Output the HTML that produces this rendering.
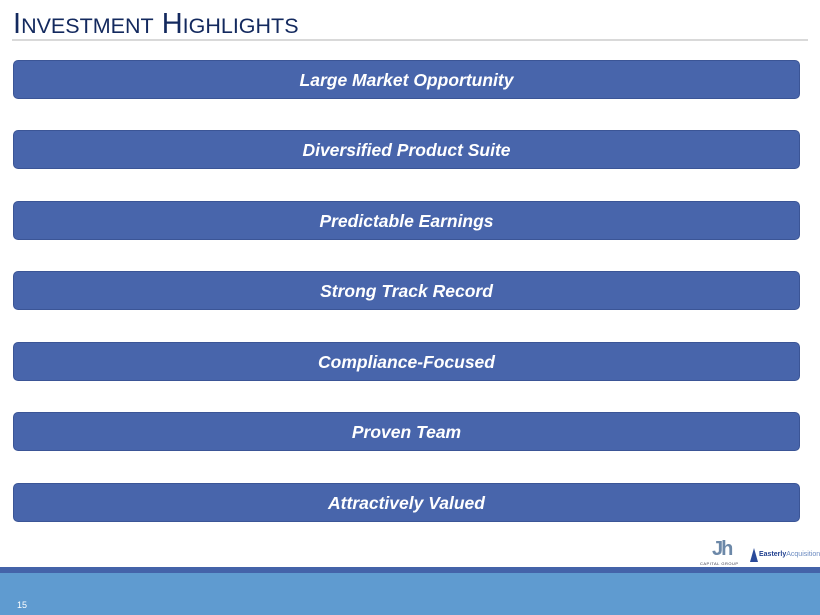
<!DOCTYPE html>
<html><head><style>
body{margin:0;width:820px;height:615px;position:relative;background:#fff;font-family:"Liberation Sans",sans-serif;overflow:hidden}
.t{position:absolute;left:13px;top:8px;color:#13295e;font-size:29px;letter-spacing:0;white-space:nowrap}
.t span{font-size:21.5px}
.ln{position:absolute;left:12px;top:39px;width:796px;height:2px;background:#d9d9d9}
.b{position:absolute;left:13px;width:785px;height:37px;background:#4865ab;border:1px solid #3b5596;border-radius:5px;color:#fff;font-weight:bold;font-style:italic;font-size:17.5px;text-align:center;line-height:39px}
.s1{position:absolute;left:0;top:567px;width:820px;height:6px;background:#4463a9}
.s2{position:absolute;left:0;top:573px;width:820px;height:42px;background:#5f9bd0}
.pn{position:absolute;left:17px;top:600px;font-size:9px;color:#fff}
</style></head><body>
<div class="t">I<span>NVESTMENT</span> H<span>IGHLIGHTS</span></div>
<div class="ln"></div>
<div class="b" style="top:60px">Large Market Opportunity</div>
<div class="b" style="top:130px">Diversified Product Suite</div>
<div class="b" style="top:201px">Predictable Earnings</div>
<div class="b" style="top:271px">Strong Track Record</div>
<div class="b" style="top:342px">Compliance-Focused</div>
<div class="b" style="top:412px">Proven Team</div>
<div class="b" style="top:483px">Attractively Valued</div>
<div style="position:absolute;left:712px;top:538px;font-size:20px;color:#6c88a8;font-weight:bold;letter-spacing:-2px">Jh</div>
<div style="position:absolute;left:700px;top:561px;font-size:4px;color:#334;letter-spacing:0.5px">CAPITAL GROUP</div>
<div style="position:absolute;left:750px;top:548px;width:8px;height:14px;background:#2a4a9a;clip-path:polygon(50% 0,100% 100%,0 100%)"></div>
<div style="position:absolute;left:759px;top:551px;font-size:7px;color:#1f3f8f;font-weight:bold">Easterly<span style="font-weight:normal;color:#6a8ac0">Acquisition</span></div>
<div class="s1"></div><div class="s2"></div>
<div class="pn">15</div>
</body></html>
